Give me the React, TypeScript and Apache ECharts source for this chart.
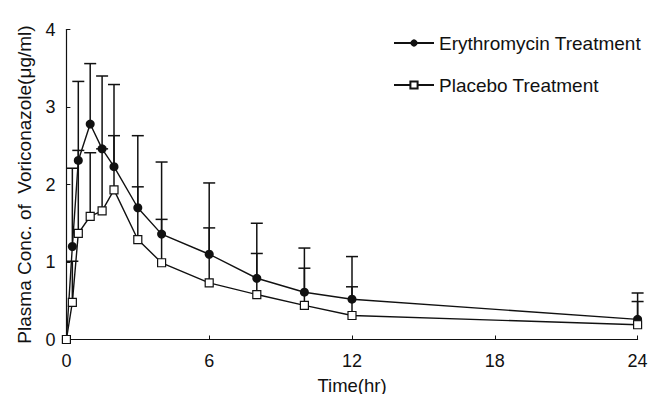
import React, { useEffect, useRef } from "react";
import * as echarts from "echarts";

const times = [0, 0.25, 0.5, 1, 1.5, 2, 3, 4, 6, 8, 10, 12, 24];
const eryMean = [0, 1.2, 2.31, 2.78, 2.46, 2.23, 1.7, 1.36, 1.1, 0.79, 0.61, 0.52, 0.26];
const eryUpper = [0, 2.21, 3.33, 3.56, 3.4, 3.29, 2.63, 2.29, 2.02, 1.5, 1.18, 1.07, 0.6];
const plaMean = [0, 0.48, 1.37, 1.59, 1.66, 1.93, 1.29, 0.99, 0.73, 0.58, 0.44, 0.31, 0.19];
const plaUpper = [0, 1.01, 2.44, 2.41, 2.46, 2.63, 1.97, 1.55, 1.44, 1.11, 0.92, 0.68, 0.49];
const xTicks = [0, 6, 12, 18, 24];
const yTicks = [0, 1, 2, 3, 4];

const FONT = "'Liberation Sans', Arial, Helvetica, sans-serif";

export default function App() {
  const ref = useRef<HTMLDivElement>(null);
  useEffect(() => {
    if (!ref.current) return;
    const chart = echarts.init(ref.current, undefined, { renderer: "svg" });
    const errData = (m: number[], u: number[]) =>
      times.map((t, i) => [t, m[i], u[i]]).filter((d) => d[2] > d[1]);
    const renderErr = (params: any, api: any) => {
      const t = api.value(0);
      const lo = api.coord([t, api.value(1)]);
      const hi = api.coord([t, api.value(2)]);
      const hw = 6;
      const style = { stroke: "#111", lineWidth: 1.5 };
      return {
        type: "group",
        children: [
          { type: "line", shape: { x1: lo[0], y1: lo[1], x2: hi[0], y2: hi[1] }, style },
          { type: "line", shape: { x1: hi[0] - hw, y1: hi[1], x2: hi[0] + hw, y2: hi[1] }, style },
        ],
      };
    };
    const legendBase = {
      orient: "vertical",
      itemWidth: 40,
      itemHeight: 9,
      itemGap: 0,
      padding: 0,
      textStyle: { fontFamily: FONT, fontSize: 19, color: "#111", lineHeight: 20 },
      left: 393,
    };
    chart.setOption({
      animation: false,
      backgroundColor: "#fff",
      textStyle: { fontFamily: FONT },
      grid: { left: 66.4, right: 22.4, top: 29.5, bottom: 62.5, containLabel: false },
      legend: [
        { ...legendBase, data: ["Erythromycin Treatment"], top: 33 },
        { ...legendBase, data: ["Placebo Treatment"], top: 75 },
      ],
      xAxis: {
        type: "value",
        min: xTicks[0],
        max: xTicks[xTicks.length - 1],
        interval: 6,
        name: "Time(hr)",
        nameLocation: "middle",
        nameGap: 36,
        nameTextStyle: { fontFamily: FONT, fontSize: 18.5, color: "#111" },
        axisLine: { show: true, lineStyle: { color: "#111", width: 1.2 } },
        axisTick: { show: true, inside: true, length: 4, lineStyle: { color: "#111" } },
        axisLabel: { fontFamily: FONT, fontSize: 18, color: "#111", margin: 12 },
        splitLine: { show: false },
      },
      yAxis: {
        type: "value",
        min: yTicks[0],
        max: yTicks[yTicks.length - 1],
        interval: 1,
        name: "Plasma Conc. of  Voriconazole(\u03bcg/ml)",
        nameLocation: "middle",
        nameGap: 32,
        nameTextStyle: { fontFamily: FONT, fontSize: 19, color: "#111" },
        axisLine: { show: true, lineStyle: { color: "#111", width: 1.2 } },
        axisTick: { show: true, inside: true, length: 4, lineStyle: { color: "#111" } },
        axisLabel: { fontFamily: FONT, fontSize: 18, color: "#111", margin: 11 },
        splitLine: { show: false },
      },
      series: [
        {
          type: "custom",
          name: "eryErr",
          renderItem: renderErr,
          data: errData(eryMean, eryUpper),
          z: 1,
          silent: true,
        },
        {
          type: "custom",
          name: "plaErr",
          renderItem: renderErr,
          data: errData(plaMean, plaUpper),
          z: 1,
          silent: true,
        },
        {
          type: "line",
          name: "Erythromycin Treatment",
          data: times.map((t, i) => [t, eryMean[i]]),
          symbol: "circle",
          symbolSize: 9,
          showAllSymbol: true,
          lineStyle: { color: "#111", width: 1.4 },
          itemStyle: { color: "#111", borderColor: "#111", borderWidth: 0 },
          z: 3,
        },
        {
          type: "line",
          name: "Placebo Treatment",
          data: times.map((t, i) => [t, plaMean[i]]),
          symbol: "rect",
          symbolSize: 8,
          showAllSymbol: true,
          lineStyle: { color: "#111", width: 1.4 },
          itemStyle: { color: "#fff", borderColor: "#111", borderWidth: 1.2 },
          z: 4,
        },
      ],
    });
    return () => chart.dispose();
  }, []);
  return <div ref={ref} style={{ width: 660, height: 402, margin: -8 }} />;
}
